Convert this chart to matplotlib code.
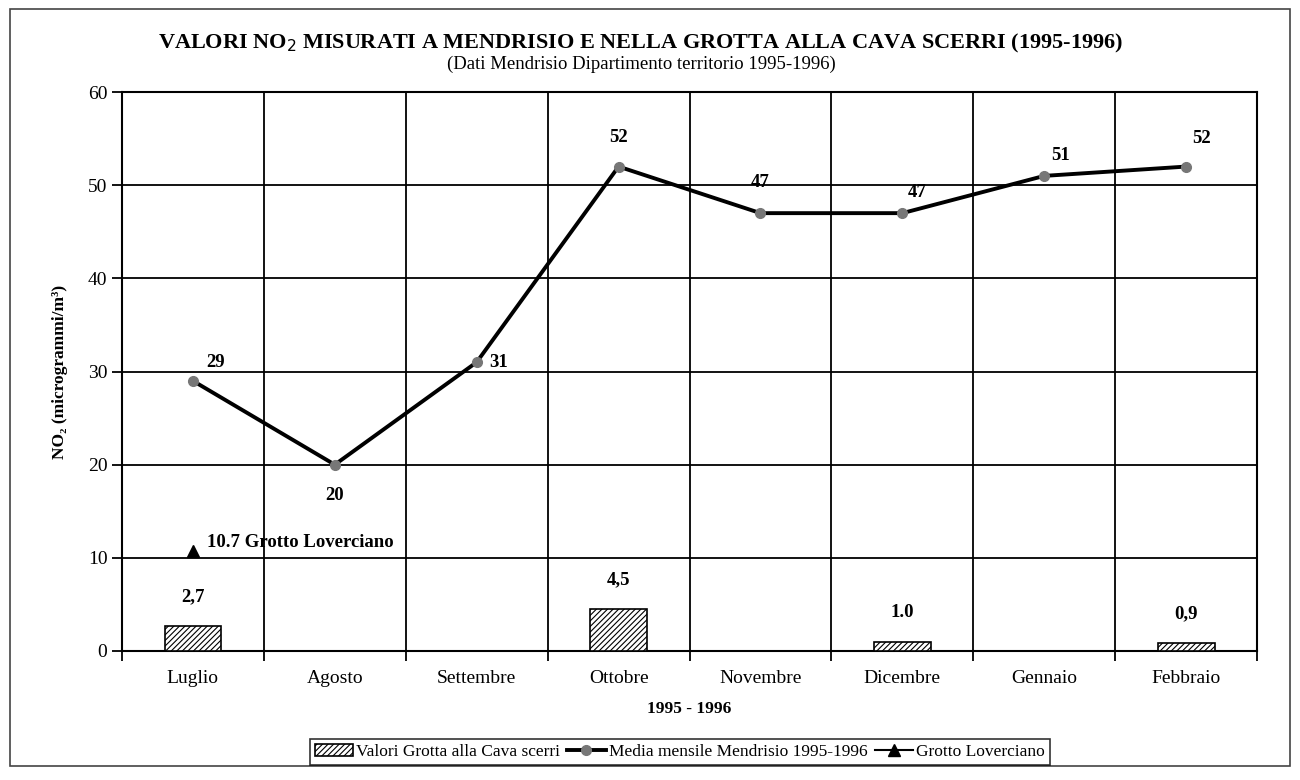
import matplotlib.pyplot as plt
from matplotlib.patches import Rectangle
import numpy as np

plt.rcParams['font.family'] = ['Liberation Serif', 'DejaVu Serif']
plt.rcParams['hatch.linewidth'] = 0.8

mesi = ["Luglio", "Agosto", "Settembre", "Ottobre", "Novembre", "Dicembre", "Gennaio", "Febbraio"]
mendrisio = [29, 20, 31, 52, 47, 47, 51, 52]
grotta = [2.7, 0, 0, 4.5, 0, 1.0, 0, 0.9]
grotta_lbl = ["2,7", "", "", "4,5", "", "1.0", "", "0,9"]
loverciano = [10.7]
# label offsets in points (dx, dy) for the line values
off = [(16, 13), (0, -22), (16, 0), (0, 21), (0, 22), (11, 15), (12, 15), (11, 20)]

x = np.arange(len(mesi))
fig = plt.figure(figsize=(13, 7.8), dpi=100)
ax = fig.add_axes([0.0938, 0.1654, 0.8732, 0.7166])

bars = ax.bar(x, grotta, width=0.4, color='white', edgecolor='black', hatch='//////',
              linewidth=1.2, label="Valori Grotta alla Cava scerri", zorder=3)
l1, = ax.plot(x, mendrisio, color='black', linewidth=2.8, marker='o', markersize=7,
              markerfacecolor='#777777', markeredgecolor='#777777',
              label="Media mensile Mendrisio 1995-1996", zorder=4)
l2, = ax.plot(x[:1], loverciano, color='black', linewidth=1.5, marker='^', markersize=8,
              label="Grotto Loverciano", zorder=4)

for xi, v, (dx, dy) in zip(x, mendrisio, off):
    ax.annotate(str(v), (xi, v), xytext=(dx, dy), textcoords='offset points',
                ha='center', va='center', fontsize=13.5, fontweight='bold')
for xi, v, t in zip(x, grotta, grotta_lbl):
    if t:
        ax.annotate(t, (xi, v), xytext=(0, 21), textcoords='offset points',
                    ha='center', va='center', fontsize=13.5, fontweight='bold')
ax.annotate(f"{loverciano[0]} Grotto Loverciano", (x[0], loverciano[0]), xytext=(10, 6),
            textcoords='offset points', ha='left', va='center', fontsize=13.5, fontweight='bold')

ax.set_xlim(-0.5, len(mesi) - 0.5)
ax.set_ylim(0, 60)
ax.set_yticks(range(0, 61, 10))
ax.set_xticks(x)
ax.set_xticklabels(mesi, fontsize=14)
ax.set_xticks(np.arange(-0.5, len(mesi)), minor=True)
ax.tick_params(axis='x', which='major', length=0, pad=14)
ax.tick_params(axis='x', which='minor', length=7, width=1.3, direction='out')
ax.tick_params(axis='y', length=7, width=1.3, direction='out', labelsize=14)
ax.grid(True, axis='y', color='black', linewidth=1.3)
ax.grid(True, axis='x', which='minor', color='black', linewidth=1.3)
ax.set_axisbelow(True)
for s in ax.spines.values():
    s.set_linewidth(1.5)

ax.set_xlabel("1995 - 1996", fontsize=12.5, fontweight='bold', labelpad=10)
ax.set_ylabel("NO₂ (microgrammi/m³)", fontsize=12.5, fontweight='bold', labelpad=14)

fig.text(0.493, 0.944, "VALORI NO$_2$ MISURATI A MENDRISIO E NELLA GROTTA ALLA CAVA SCERRI (1995-1996)",
         ha='center', va='center', fontsize=16, fontweight='bold')
fig.text(0.493, 0.918, "(Dati Mendrisio Dipartimento territorio 1995-1996)",
         ha='center', va='center', fontsize=13.5)

leg = fig.legend([bars, l1, l2], [bars.get_label(), l1.get_label(), l2.get_label()],
                 loc='center', bbox_to_anchor=(0.523, 0.036), ncol=3, frameon=True,
                 fancybox=False, edgecolor='black', fontsize=12.5, handlelength=2.2,
                 handletextpad=0.2, columnspacing=0.4, borderpad=0.3)
leg.get_frame().set_linewidth(1.2)

fig.patches.append(Rectangle((0.008, 0.018), 0.984, 0.97, transform=fig.transFigure,
                             fill=False, edgecolor='#444444', linewidth=1.2))

fig.savefig("out.png", dpi=100)
